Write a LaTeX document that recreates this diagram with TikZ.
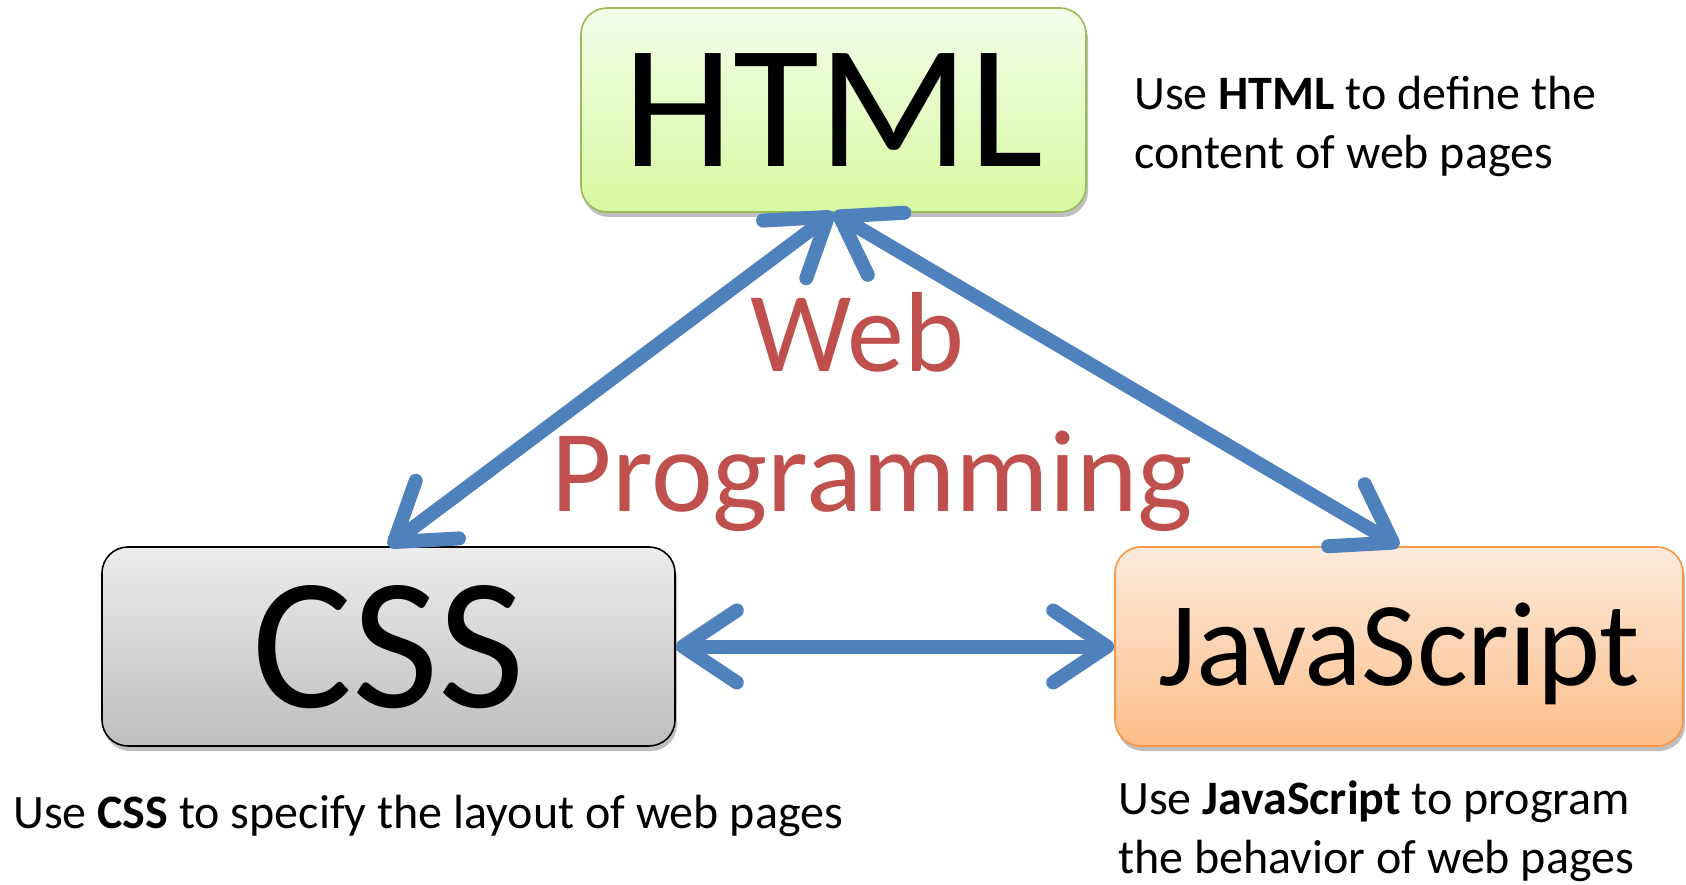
\documentclass[tikz,border=0pt]{standalone}
\usepackage{fontspec}
\setmainfont{Carlito}
\usetikzlibrary{arrows.meta,shadows}
\definecolor{arrblue}{RGB}{79,129,189}
\definecolor{webred}{RGB}{192,80,77}
\definecolor{htmlborder}{RGB}{155,187,89}
\definecolor{htmltop}{RGB}{243,253,234}
\definecolor{htmlbot}{RGB}{214,249,160}
\definecolor{csstop}{RGB}{236,236,236}
\definecolor{cssbot}{RGB}{190,190,190}
\definecolor{jsborder}{RGB}{247,150,70}
\definecolor{jstop}{RGB}{253,235,220}
\definecolor{jsbot}{RGB}{253,190,138}
\tikzset{
  box/.style={rounded corners=26pt, line width=1.6pt, inner sep=0pt, text depth=0pt,
    drop shadow={shadow xshift=2pt, shadow yshift=-5pt, opacity=0.25, fill=black}},
  desc/.style={font=\fontsize{48}{59}\selectfont, align=left, anchor=base west, inner sep=0pt},
  webtext/.style={text=webred, anchor=base, inner sep=0pt},
  link/.style={draw=arrblue, line width=14pt, line cap=round,
    {Straight Barb[length=54pt, width=72pt, line cap=round, line join=round]}-{Straight Barb[length=54pt, width=72pt, line cap=round, line join=round]}}
}
\begin{document}
\begin{tikzpicture}[x=1pt, y=-1pt]
\useasboundingbox (0,0) rectangle (1686,885);
\node[box, font=\fontsize{176}{200}\selectfont, text height=113pt, draw=htmlborder, top color=htmltop, bottom color=htmlbot,
  minimum width=505pt, minimum height=204pt] (html) at (833.5,110) {HTML};
\node[box, font=\fontsize{188}{200}\selectfont, text height=121pt, draw=black, top color=csstop, bottom color=cssbot,
  minimum width=573pt, minimum height=199pt] (css) at (388.5,646.5) {CSS};
\node[box, font=\fontsize{120}{140}\selectfont, text height=77pt, draw=jsborder, top color=jstop, bottom color=jsbot,
  minimum width=568pt, minimum height=199pt] (js) at (1399,646.5) {JavaScript};

\node[webtext, font=\fontsize{114}{140}\selectfont] (web) at (857,371) {Web};
\node[webtext, font=\fontsize{117}{140}\selectfont] (prog) at (872,511) {Programming};

\node[desc] (dhtml) at (1134,169) {Use \textbf{HTML} to define the\\content of web pages};
\node[desc] (dcss) at (13,828) {Use \textbf{CSS} to specify the layout of web pages};
\node[desc] (djs) at (1118,873) {Use \textbf{JavaScript} to program\\the behavior of web pages};

\draw[link] (css.north) -- (html.south);
\draw[link] (html.south) -- (js.north);
\draw[link] (css.east) -- (js.west);
\end{tikzpicture}
\end{document}
